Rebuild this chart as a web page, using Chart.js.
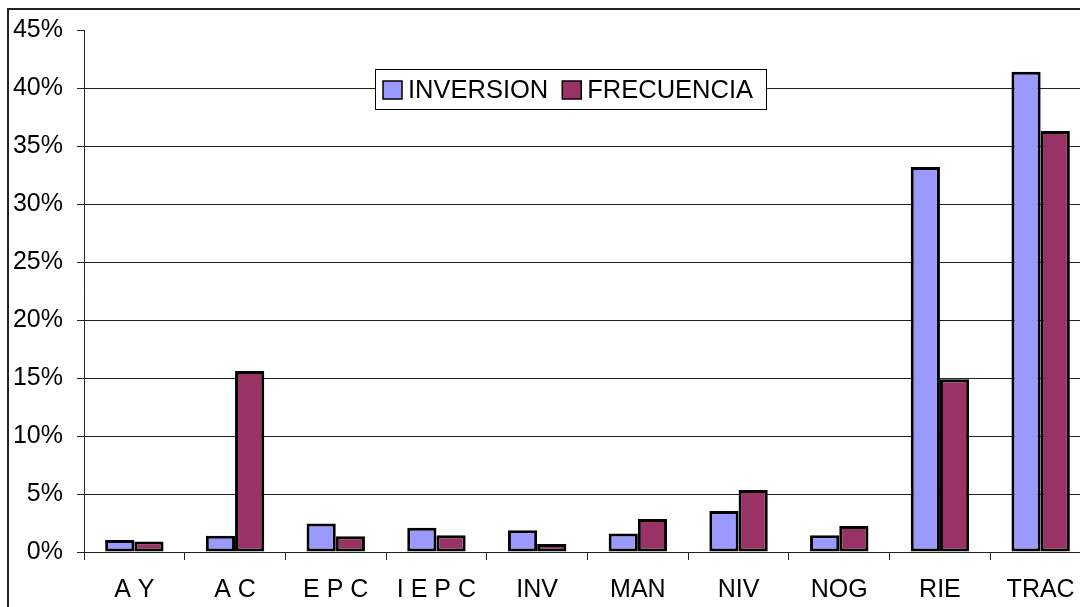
<!DOCTYPE html>
<html>
<head>
<meta charset="utf-8">
<script src="https://cdn.jsdelivr.net/npm/chart.js@4"></script>
<style>
  html, body { margin: 0; padding: 0; background: #fff; overflow: hidden; }
  #wrap { position: relative; width: 1080px; height: 607px; overflow: hidden; }
  #frame { position: absolute; left: 7px; top: 8px; width: 2000px; height: 2000px; border: 2px solid #222; box-sizing: border-box; }
  #holder { position: absolute; left: 0; top: 0; width: 1100px; height: 620px; }
</style>
</head>
<body>
<div id="wrap">
  <div id="frame"></div>
  <div id="holder"><canvas id="MainChart" width="1100" height="620"></canvas></div>
</div>
<script>
const categories = ['A Y', 'A C', 'E P C', 'I E P C', 'INV', 'MAN', 'NIV', 'NOG', 'RIE', 'TRAC'];
const inversion = [1.03, 1.4, 2.45, 2.1, 1.87, 1.59, 3.53, 1.44, 33.2, 41.4];
const frecuencia = [0.9, 15.6, 1.35, 1.44, 0.69, 2.85, 5.35, 2.24, 14.9, 36.3];
const seriesNames = ['INVERSION', 'FRECUENCIA'];
const yTicks = [0, 5, 10, 15, 20, 25, 30, 35, 40, 45];

const FONT = 'Arial, "Liberation Sans", sans-serif';

// legend drawn inside the plot, like the excel one
const boxLegend = {
  id: 'boxLegend',
  afterDraw(chart) {
    const ctx = chart.ctx;
    const x0 = 375, y0 = 69, w = 391, h = 40;
    ctx.save();
    ctx.fillStyle = '#fff';
    ctx.fillRect(x0, y0, w, h);
    ctx.strokeStyle = '#000';
    ctx.lineWidth = 1;
    ctx.strokeRect(x0 + 0.5, y0 + 0.5, w, h);
    ctx.font = '25.5px ' + FONT;
    ctx.textBaseline = 'middle';
    let x = x0 + 8;
    chart.data.datasets.forEach(ds => {
      ctx.fillStyle = ds.backgroundColor;
      ctx.fillRect(x, y0 + 12, 19, 18);
      ctx.lineWidth = 1.5;
      ctx.strokeStyle = '#000';
      ctx.strokeRect(x, y0 + 12, 19, 18);
      ctx.fillStyle = '#000';
      ctx.fillText(ds.label, x + 25, y0 + 21.5);
      x += 25 + ctx.measureText(ds.label).width + 14;
    });
    ctx.restore();
  }
};

new Chart(document.getElementById('MainChart'), {
  type: 'bar',
  data: {
    labels: categories,
    datasets: [{
      label: seriesNames[0],
      data: inversion,
      backgroundColor: '#9999FF',
      borderColor: '#000',
      borderWidth: 3,
      borderSkipped: false,
      barPercentage: 1,
      categoryPercentage: 0.58
    }, {
      label: seriesNames[1],
      data: frecuencia,
      backgroundColor: '#993366',
      borderColor: '#000',
      borderWidth: 3,
      borderSkipped: false,
      barPercentage: 1,
      categoryPercentage: 0.58
    }]
  },
  options: {
    responsive: false,
    animation: false,
    layout: { padding: { top: 30, right: 9, left: 0, bottom: 0 } },
    plugins: {
      legend: { display: false },
      tooltip: { enabled: false }
    },
    scales: {
      x: {
        afterFit: s => { s.height = 68; },
        grid: {
          offset: true,
          color: 'transparent',
          tickColor: '#222',
          tickLength: 8
        },
        border: { color: '#222', width: 1 },
        ticks: {
          color: '#000',
          font: { family: FONT, size: 25 },
          padding: 15,
          maxRotation: 0,
          autoSkip: false
        }
      },
      y: {
        min: 0,
        max: 45,
        afterFit: s => { s.width = 84; },
        afterBuildTicks: s => { s.ticks = yTicks.map(v => ({ value: v })); },
        grid: {
          color: c => (c.tick && c.tick.value === 45) ? 'transparent' : '#222',
          tickColor: '#222',
          tickLength: 7
        },
        border: { color: '#222', width: 1 },
        ticks: {
          color: '#000',
          font: { family: FONT, size: 25 },
          padding: 14,
          callback: v => v + '%'
        }
      }
    }
  },
  plugins: [boxLegend]
});
</script>
</body>
</html>
